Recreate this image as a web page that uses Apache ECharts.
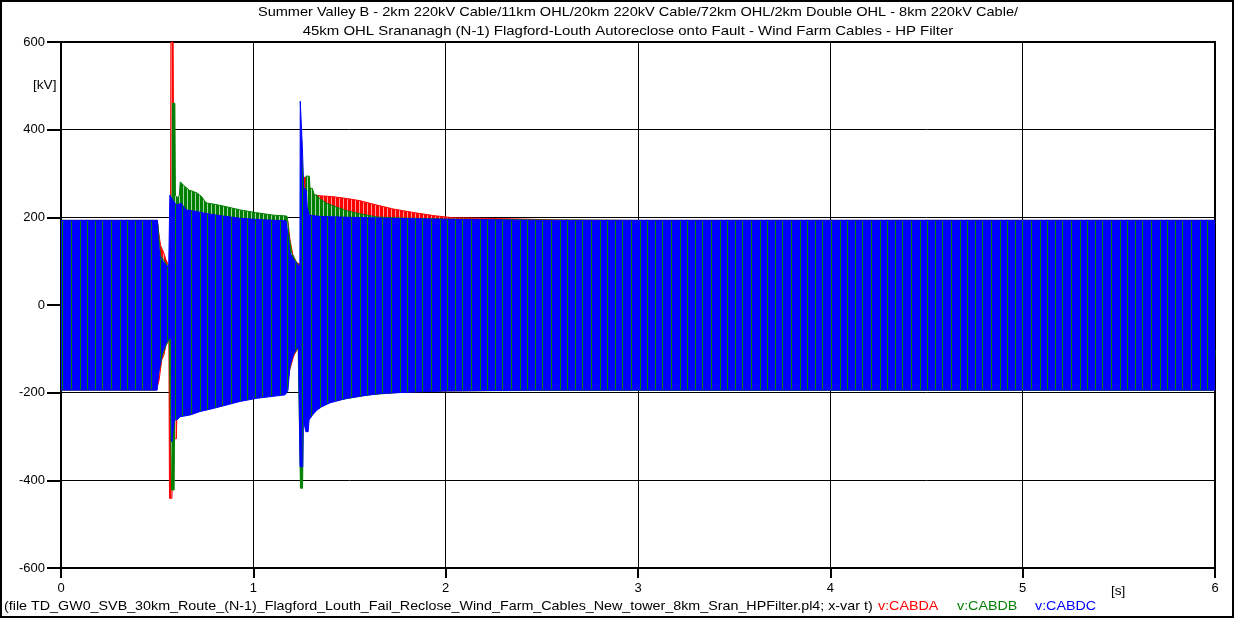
<!DOCTYPE html>
<html><head><meta charset="utf-8">
<script src="https://cdn.jsdelivr.net/npm/echarts@6/dist/echarts.min.js"></script>
<style>html,body{margin:0;padding:0;background:#fff}#c{width:1235px;height:619px}</style>
</head><body><div id="c"></div>
<script>
// ---------- texts ----------
const titleLines = [
  'Summer Valley B - 2km 220kV Cable/11km OHL/20km 220kV Cable/72km OHL/2km Double OHL - 8km 220kV Cable/',
  '45km OHL Srananagh (N-1) Flagford-Louth Autoreclose onto Fault - Wind Farm Cables - HP Filter'
];
const footerText = '(file TD_GW0_SVB_30km_Route_(N-1)_Flagford_Louth_Fail_Reclose_Wind_Farm_Cables_New_tower_8km_Sran_HPFilter.pl4; x-var t)';
const seriesNames = ['v:CABDA', 'v:CABDB', 'v:CABDC'];
const yUnit = '[kV]';
const xUnit = '[s]';

// ---------- ticks ----------
const xTicks = [0, 1, 2, 3, 4, 5, 6];
const yTicks = [-600, -400, -200, 0, 200, 400, 600];

// ---------- envelope data: [t (s), peak voltage (kV)] ----------
const redUpper = [
  [0,193],[0.500,193],[0.505,190],[0.508,165],[0.518,135],[0.532,122],[0.546,103],[0.558,92],[0.569,90],
  [0.5715,600],[0.583,600],[0.586,300],[0.592,245],[0.60,235],[0.65,222],[0.70,215],[0.80,207],[0.90,203],
  [1.00,200],[1.10,198],[1.175,197],[1.180,190],[1.19,150],[1.205,115],[1.225,97],[1.245,92],[1.258,95],
  [1.261,291],[1.274,291],[1.278,265],[1.30,255],[1.312,251],[1.35,249],[1.416,247],[1.486,243],[1.555,238],
  [1.642,228],[1.728,219],[1.832,211],[1.936,204],[2.04,199],[2.18,198],[2.40,196],[2.60,194],[3.0,193],[6,193]
];
const redLower = [
  [0,-194],[0.497,-194],[0.505,-180],[0.51,-171],[0.524,-125],[0.535,-114],[0.546,-91],[0.561,-76],
  [0.564,-441],[0.577,-441],[0.580,-305],[0.600,-305],[0.603,-235],[0.70,-215],[0.85,-207],[1.0,-202],
  [1.17,-198],[1.178,-195],[1.19,-147],[1.21,-116],[1.235,-96],[1.245,-92],[1.26,-250],[1.30,-240],
  [1.40,-215],[1.6,-203],[1.8,-198],[2.0,-196],[2.5,-194],[6,-194]
];
const greenUpper = [
  [0,193],[0.500,193],[0.505,180],[0.51,150],[0.518,112],[0.53,105],[0.546,95],[0.56,88],[0.572,86],
  [0.577,200],[0.579,460],[0.592,460],[0.595,250],[0.605,245],[0.615,250],[0.62,281],[0.645,270],[0.667,262],
  [0.688,259],[0.709,255],[0.732,247],[0.754,233],[0.796,230],[0.862,224],[0.931,217],[1.009,211],[1.104,205],
  [1.174,203],[1.178,195],[1.185,160],[1.20,118],[1.215,105],[1.233,91],[1.245,88],[1.268,100],
  [1.274,294],[1.291,294],[1.295,266],[1.307,266],[1.317,251],[1.33,251],[1.343,243],[1.382,232],[1.434,223],
  [1.486,215],[1.555,208],[1.642,201],[1.711,199],[2.0,196],[2.5,194],[3.0,193],[6,193]
];
const greenLower = [
  [0,-194],[0.494,-194],[0.497,-171],[0.51,-150],[0.525,-118],[0.545,-93],[0.563,-78],[0.573,-80],
  [0.575,-422],[0.588,-422],[0.591,-255],[0.62,-245],[0.70,-230],[0.85,-215],[1.0,-205],[1.17,-200],
  [1.176,-196],[1.185,-150],[1.205,-116],[1.233,-96],[1.243,-92],[1.245,-418],[1.256,-418],[1.259,-280],
  [1.30,-245],[1.40,-220],[1.6,-205],[1.8,-198],[2.0,-196],[2.5,-195],[5.99,-195],[6,-103]
];
const blueUpper = [
  [0,193],[0.502,193],[0.505,150],[0.515,110],[0.53,100],[0.545,92],[0.56,85],[0.564,82],
  [0.566,251],[0.576,251],[0.580,240],[0.585,236],[0.60,228],[0.625,232],[0.65,217],[0.71,213],[0.75,209],
  [0.84,203],[0.93,198],[1.02,195],[1.17,192],[1.178,192],[1.183,150],[1.19,120],[1.21,103],[1.23,92],
  [1.242,88],[1.244,465],[1.252,465],[1.255,358],[1.259,358],[1.262,268],[1.275,262],[1.28,225],[1.29,205],
  [1.35,202],[1.5,200],[1.8,197],[2.1,195],[2.5,193],[6,193]
];
const blueLower = [
  [0,-194],[0.500,-194],[0.503,-175],[0.51,-150],[0.525,-112],[0.545,-88],[0.56,-78],[0.574,-76],
  [0.576,-312],[0.586,-312],[0.589,-262],[0.604,-262],[0.619,-255],[0.671,-251],[0.723,-243],[0.792,-236],
  [0.931,-220],[1.017,-213],[1.165,-205],[1.175,-203],[1.18,-195],[1.19,-140],[1.21,-110],[1.235,-93],
  [1.241,-90],[1.243,-369],[1.257,-369],[1.26,-262],[1.27,-262],[1.273,-289],[1.285,-289],[1.29,-262],
  [1.31,-250],[1.33,-240],[1.356,-232],[1.40,-223],[1.486,-213],[1.572,-207],[1.66,-202],[1.80,-199],
  [2.0,-196],[2.5,-194],[6,-194]
];

// ---------- styles ----------
const FONT = "'Liberation Sans', Arial, sans-serif";
const colors = ['#ff0000', '#008000', '#0000ff'];

function stripes(bg, lineColor, cols, width) {
  const c = document.createElement('canvas');
  c.width = width; c.height = 4;
  const g = c.getContext('2d');
  g.fillStyle = bg; g.fillRect(0, 0, width, 4);
  g.fillStyle = lineColor;
  cols.forEach(x => g.fillRect(x, 0, 1, 4));
  return { image: c, repeat: 'repeat' };
}
const fills = [
  stripes('#ff0000', '#ff9a9a', [3], 4),
  stripes('#008000', '#a8d4a8', [3], 4),
  stripes('#0000ff', '#008000', [0, 7, 15, 22, 31], 40)
];

const phases = [[redUpper, redLower], [greenUpper, greenLower], [blueUpper, blueLower]];
const series = [];
phases.forEach((pair, i) => {
  pair.forEach(d => {
    series.push({
      type: 'line', name: seriesNames[i], data: d, showSymbol: false, silent: true,
      lineStyle: { color: colors[i], width: 1 },
      itemStyle: { color: colors[i] },
      areaStyle: { color: fills[i], opacity: 1, origin: 'auto' },
      z: 2 + i
    });
  });
});

function txt(x, y, text, color, align, sx) {
  return { type: 'text', x: x, y: y, scaleX: sx,
    style: { text: text, font: '13px ' + FONT, fill: color, textAlign: align, textVerticalAlign: 'middle' } };
}

const chart = echarts.init(document.getElementById('c'), null, { renderer: 'canvas' });
chart.setOption({
  animation: false,
  backgroundColor: '#fff',
  textStyle: { fontFamily: FONT },
  grid: { left: 61, right: 20, top: 42, bottom: 51, show: true, borderColor: '#000', borderWidth: 2, containLabel: false },
  xAxis: {
    type: 'value', min: xTicks[0], max: xTicks[xTicks.length - 1], interval: 1,
    axisLine: { onZero: false, lineStyle: { color: '#000', width: 2 } },
    axisTick: { show: true, length: 10, lineStyle: { color: '#000', width: 2 } },
    axisLabel: { color: '#000', fontSize: 13, fontFamily: FONT, margin: 14 },
    splitLine: { show: true, lineStyle: { color: '#000', width: 1 } }
  },
  yAxis: {
    type: 'value', min: yTicks[0], max: yTicks[yTicks.length - 1], interval: 200,
    axisLine: { onZero: false, lineStyle: { color: '#000', width: 2 } },
    axisTick: { show: true, length: 14, lineStyle: { color: '#000', width: 2 } },
    axisLabel: { color: '#000', fontSize: 13, fontFamily: FONT, margin: 16 },
    splitLine: { show: true, lineStyle: { color: '#000', width: 1 } }
  },
  series: series,
  graphic: [
    { type: 'rect', shape: { x: 1, y: 1, width: 1232, height: 616 }, style: { fill: 'none', stroke: '#000', lineWidth: 2 }, z: 100 },
    txt(638, 12, titleLines[0], '#000', 'center', 1.12),
    txt(628, 31, titleLines[1], '#000', 'center', 1.15),
    txt(33, 85, yUnit, '#000', 'left', 1.05),
    txt(1111, 591, xUnit, '#000', 'left', 1.05),
    txt(4, 606, footerText, '#000', 'left', 1.10),
    txt(878, 606, seriesNames[0], colors[0], 'left', 1.10),
    txt(957, 606, seriesNames[1], colors[1], 'left', 1.10),
    txt(1035, 606, seriesNames[2], colors[2], 'left', 1.10)
  ]
});
</script>
</body></html>
